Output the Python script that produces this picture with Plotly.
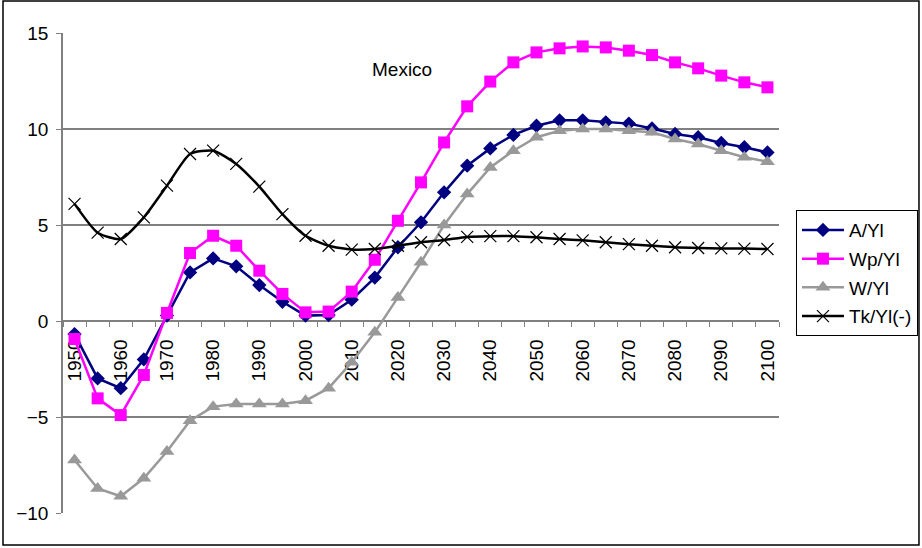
import plotly.graph_objects as go

years = list(range(1950, 2101, 5))

a_yl = [-0.68, -2.99, -3.5, -2.0, 0.28, 2.53, 3.26, 2.85, 1.87, 1.0, 0.28,
        0.31, 1.11, 2.26, 3.84, 5.14, 6.7, 8.09, 8.99, 9.69, 10.17, 10.45,
        10.45, 10.35, 10.28, 10.03, 9.74, 9.57, 9.27, 9.05, 8.78]
wp_yl = [-0.94, -4.03, -4.9, -2.81, 0.42, 3.54, 4.44, 3.92, 2.62, 1.41, 0.45,
         0.49, 1.53, 3.19, 5.22, 7.22, 9.3, 11.18, 12.47, 13.47, 13.99, 14.2,
         14.3, 14.25, 14.08, 13.85, 13.47, 13.16, 12.78, 12.43, 12.17]
w_yl = [-7.24, -8.72, -9.13, -8.19, -6.8, -5.19, -4.46, -4.32, -4.32, -4.32,
        -4.15, -3.5, -2.15, -0.59, 1.23, 3.06, 5.0, 6.61, 8.0, 8.87, 9.57,
        9.91, 10.0, 10.0, 9.91, 9.83, 9.48, 9.22, 8.87, 8.53, 8.3]
tk_yl = [6.1, 4.6, 4.27, 5.4, 7.05, 8.7, 8.87, 8.18, 7.0, 5.57, 4.44, 3.92,
         3.72, 3.75, 3.92, 4.1, 4.22, 4.38, 4.42, 4.42, 4.36, 4.27, 4.2, 4.1,
         4.0, 3.92, 3.84, 3.8, 3.78, 3.77, 3.75]

x_labels = list(range(1950, 2101, 10))
y_ticks = [-10, -5, 0, 5, 10, 15]

FONT = "Liberation Sans, Arial, sans-serif"
FS = 19
GRID = "#808080"

fig = go.Figure()

fig.add_trace(go.Scatter(
    x=years, y=a_yl, name="A/Yl", mode="lines+markers", legendgroup="a",
    line=dict(color="#000080", width=2.5),
    marker=dict(symbol="diamond", size=11, color="#000080"),
))
fig.add_trace(go.Scatter(
    x=years, y=wp_yl, name="Wp/Yl", mode="lines+markers", legendgroup="wp",
    line=dict(color="#FF00FF", width=2.5),
    marker=dict(symbol="square", size=12, color="#FF00FF"),
))
fig.add_trace(go.Scatter(
    x=years, y=w_yl, name="W/Yl", mode="lines+markers", legendgroup="w",
    line=dict(color="#999999", width=2.5),
    marker=dict(symbol="triangle-up", size=13, color="#999999"),
))
fig.add_trace(go.Scatter(
    x=years, y=tk_yl, name="Tk/Yl(-)", mode="lines+markers", legendgroup="tk",
    line=dict(color="#000000", width=2.5, shape="spline", smoothing=0.6),
    marker=dict(symbol="x-thin", size=12, color="#000000",
                line=dict(color="#000000", width=1.2)),
))

fig.update_layout(
    width=922, height=548,
    margin=dict(l=63, r=143, t=33, b=35, autoexpand=False),
    paper_bgcolor="white", plot_bgcolor="white",
    font=dict(family=FONT, size=FS, color="black"),
    showlegend=True,
    legend=dict(
        x=1.0237, y=0.631, xanchor="left", yanchor="top",
        bordercolor="black", borderwidth=1, bgcolor="white",
        font=dict(family=FONT, size=FS, color="black"),
        tracegroupgap=1, itemwidth=42,
    ),
    xaxis=dict(
        range=[1947.5, 2102.5],
        tickmode="array", tickvals=x_labels,
        ticktext=[str(v) for v in x_labels],
        tickangle=-90, ticks="", ticklabelstandoff=10,
        tickfont=dict(family=FONT, size=FS, color="black"),
        showgrid=False, zeroline=False,
        showline=True, linecolor=GRID, linewidth=1.5,
        anchor="free", position=0.4,
        layer="below traces",
        minor=dict(tick0=1947.5, dtick=5, ticks="outside", ticklen=5,
                   tickcolor=GRID, tickwidth=1.2, showgrid=False),
    ),
    yaxis=dict(
        range=[-10, 15],
        tickmode="array", tickvals=y_ticks,
        ticks="outside", ticklen=5, tickcolor=GRID, tickwidth=1.2,
        ticklabelstandoff=4,
        tickfont=dict(family=FONT, size=FS, color="black"),
        showgrid=True, gridcolor=GRID, gridwidth=1.5,
        zeroline=False,
        showline=True, linecolor=GRID, linewidth=1.5,
        layer="below traces",
    ),
    annotations=[dict(
        text="Mexico", xref="paper", yref="paper",
        x=0.4735, y=0.923, xanchor="center", yanchor="middle",
        showarrow=False, font=dict(family=FONT, size=FS, color="black"),
    )],
    shapes=[dict(
        type="rect", xref="paper", yref="paper",
        x0=-0.0838, x1=1.1955, y0=-0.0667, y1=1.0667,
        line=dict(color="black", width=1.5), fillcolor="rgba(0,0,0,0)",
        layer="below",
    )],
)

fig.write_html("out.html")
